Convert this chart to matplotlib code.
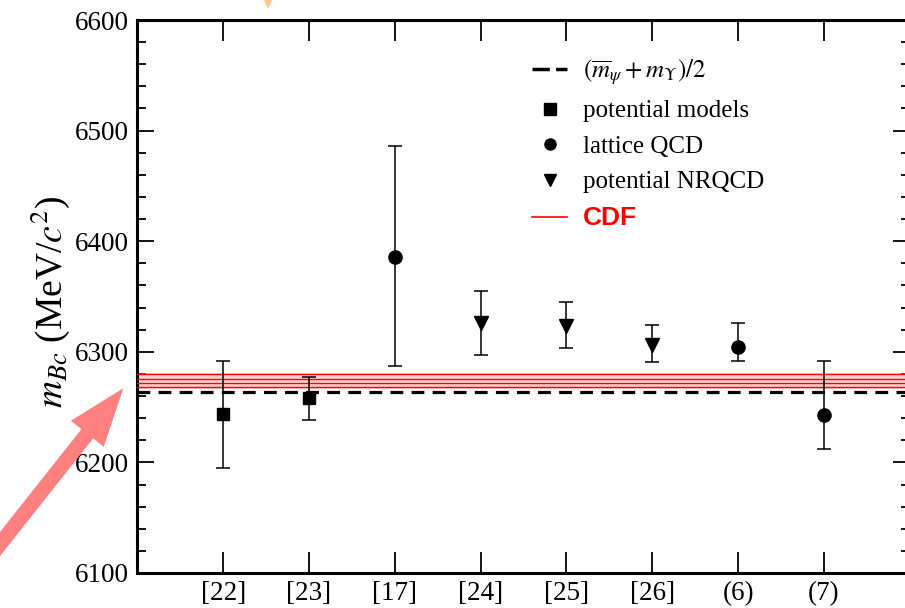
import matplotlib
matplotlib.use("Agg")
import matplotlib.pyplot as plt
from matplotlib.lines import Line2D
from matplotlib.patches import FancyArrow, Polygon
import numpy as np

# ---- data ----
refs = ["[22]", "[23]", "[17]", "[24]", "[25]", "[26]", "(6)", "(7)"]
groups = ["pot", "pot", "lat", "nrqcd", "nrqcd", "nrqcd", "lat", "lat"]
mass = [6244, 6258, 6386, 6326, 6323, 6306, 6304, 6243]
err_hi = [6292, 6277, 6486, 6355, 6345, 6324, 6326, 6292]
err_lo = [6195, 6238, 6287, 6297, 6303, 6291, 6292, 6212]
avg_line = 6264
cdf_lines = [6279.5, 6275.5, 6271.8, 6268.2]
cdf_band = [6266.5, 6281]
yticks = [6100, 6200, 6300, 6400, 6500, 6600]

plt.rcParams["font.family"] = ["Liberation Serif", "DejaVu Serif"]
plt.rcParams["mathtext.fontset"] = "stix"

W, H = 905, 608
fig = plt.figure(figsize=(W / 100, H / 100), dpi=100)
x0, x1 = 137.3, 909.8
ytop, ybot = 20.0, 573.0
ax = fig.add_axes([x0 / W, (H - ybot) / H, (x1 - x0) / W, (ybot - ytop) / H])

xpos = np.arange(1, len(refs) + 1)
marker_of = {"pot": "s", "lat": "o", "nrqcd": "v"}
size_of = {"pot": 8.5, "lat": 9.5, "nrqcd": 9.5}
for xi, g, m, hi, lo in zip(xpos, groups, mass, err_hi, err_lo):
    ax.errorbar([xi], [m], yerr=[[m - lo], [hi - m]], fmt=marker_of[g],
                color="black", ms=size_of[g], elinewidth=1.1, capsize=5,
                capthick=1.1, zorder=5)

# CDF band
ax.axhspan(cdf_band[0], cdf_band[1], color="#ff9999", alpha=0.45, lw=0, zorder=2)
for v in cdf_lines:
    ax.axhline(v, color="red", lw=1.0, zorder=3)
ax.axhline(avg_line, color="black", lw=2.3, linestyle=(0, (4, 2.6)), zorder=4)

ax.set_xlim(0, 9)
ax.set_ylim(6100, 6600)
ax.set_xticks(xpos)
ax.set_xticklabels(refs)
ax.set_yticks(yticks)
ax.set_yticks(np.arange(6100, 6601, 20), minor=True)
ax.tick_params(axis="both", which="both", direction="in", top=True, right=True,
               labelsize=19.5, width=1.3)
ax.tick_params(axis="x", which="major", length=15, pad=6)
ax.tick_params(axis="x", which="minor", bottom=False, top=False)
ax.tick_params(axis="y", which="major", length=12, pad=6)
ax.tick_params(axis="y", which="minor", length=6.5)
for s in ax.spines.values():
    s.set_linewidth(2.2)

ax.set_ylabel(r"$m_{Bc}$ (MeV/$c^2$)", fontsize=27)
ax.yaxis.set_label_coords(72 / W, 1 - 302 / H, transform=fig.transFigure)

# legend
handles = [
    Line2D([], [], color="black", lw=2.5, linestyle=(0, (5, 1.8))),
    Line2D([], [], color="black", marker="s", ls="none", ms=8),
    Line2D([], [], color="black", marker="o", ls="none", ms=8),
    Line2D([], [], color="black", marker="v", ls="none", ms=8),
    Line2D([], [], color="red", lw=1.2),
]
labels = [r"$(\overline{m}_{\psi} + m_{\Upsilon})/2$", "potential models",
          "lattice QCD", "potential NRQCD", "CDF"]
leg = ax.legend(handles, labels, loc="upper left", frameon=False, fontsize=18,
                bbox_to_anchor=(532 / W, 1 - 57 / H), bbox_transform=fig.transFigure,
                handlelength=1.4, handletextpad=0.65, labelspacing=0.52,
                borderpad=0, borderaxespad=0)
cdf_txt = leg.get_texts()[-1]
cdf_txt.set_color("red")
cdf_txt.set_fontweight("bold")
cdf_txt.set_family(["Liberation Sans", "DejaVu Sans"])
cdf_txt.set_fontsize(19)

# overlay annotations (pixel coordinates)
ov = fig.add_axes([0, 0, 1, 1], zorder=10)
ov.set_xlim(0, W)
ov.set_ylim(H, 0)
ov.axis("off")
ov.patch.set_alpha(0)
sx, sy, tx, ty = -15, 563, 123.3, 388.3
ov.add_patch(FancyArrow(sx, sy, tx - sx, ty - sy, width=15, head_width=42,
                        head_length=58, length_includes_head=True,
                        color="#ff8080", lw=0))
ov.add_patch(Polygon([[264, 0], [272, 0], [268, 9]], closed=True,
                     color="#ffc888", lw=0))

fig.savefig("out.png", dpi=100)
